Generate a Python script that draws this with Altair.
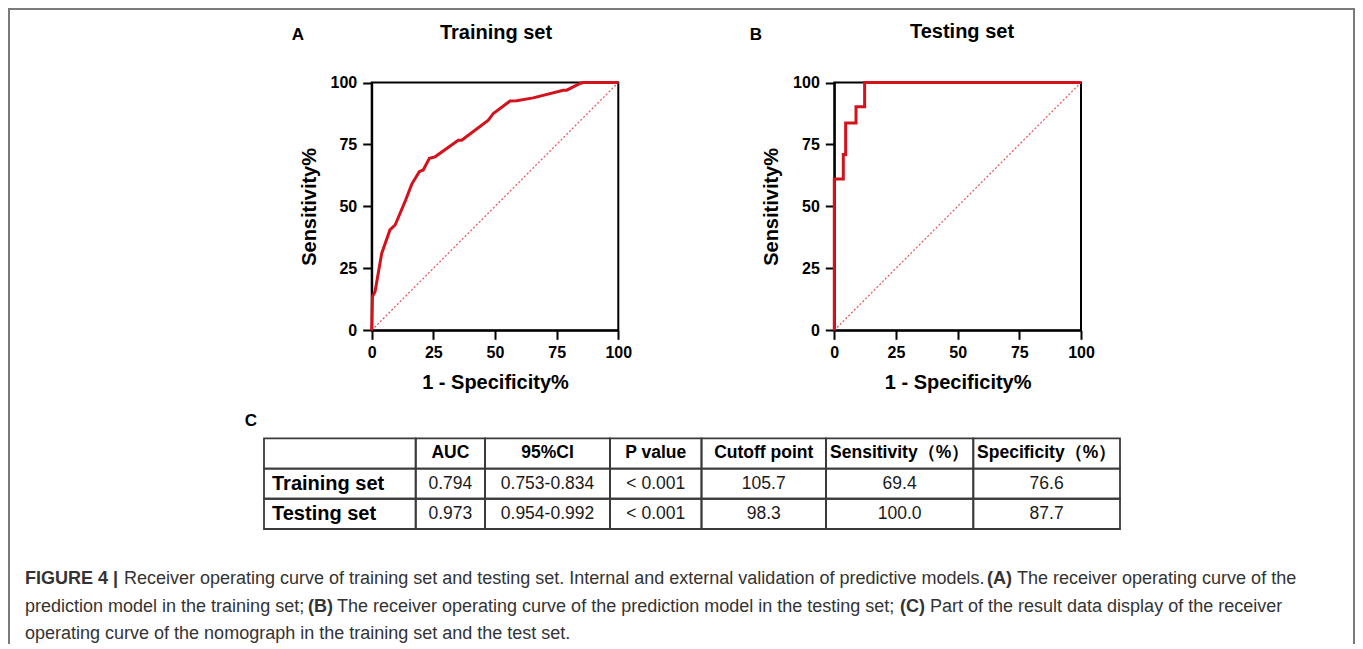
import altair as alt
import pandas as pd

# ---------------- data ----------------
train_fpr = [0, 0.3, 1.35, 4.05, 7.4, 9.5, 13.5, 16.2, 19.3, 20.9, 23.4, 25.7, 35.1, 36.5,
             47.3, 49.3, 56.1, 58.8, 65.5, 77.7, 79.1, 84.5, 85.8, 100]
train_tpr = [0, 13.6, 15.6, 31.0, 40.5, 42.5, 51.9, 58.9, 64.0, 64.7, 69.4, 70.0, 76.7, 76.7,
             84.8, 87.5, 92.5, 92.6, 93.8, 96.9, 96.9, 99.6, 100, 100]
test_fpr = [0, 0, 3.65, 3.65, 4.6, 4.6, 8.8, 8.8, 12.3, 12.3, 100]
test_tpr = [0, 61.1, 61.1, 70.9, 70.9, 83.7, 83.7, 90.2, 90.2, 100, 100]
chance = [0, 100]
axis_ticks = [0, 25, 50, 75, 100]
panel_titles = ["Training set", "Testing set"]
panel_letters = ["A", "B", "C"]
x_title = "1 - Specificity%"
y_title = "Sensitivity%"

table_header = ["", "AUC", "95%CI", "P value", "Cutoff point", "Sensitivity（%）", "Specificity（%）"]
table_rows = ["Training set", "Testing set"]
auc = ["0.794", "0.973"]
ci95 = ["0.753-0.834", "0.954-0.992"]
pval = ["< 0.001", "< 0.001"]
cutoff = ["105.7", "98.3"]
sensitivity = ["69.4", "100.0"]
specificity = ["76.6", "87.7"]

caption_text = [
    "FIGURE 4 |",
    "Receiver operating curve of training set and testing set. Internal and external validation of predictive models.",
    "(A)",
    "The receiver operating curve of the",
    "prediction model in the training set;",
    "(B)",
    "The receiver operating curve of the prediction model in the testing set;",
    "(C)",
    "Part of the result data display of the receiver",
    "operating curve of the nomograph in the training set and the test set.",
]
caption_bold = [True, False, True, False, False, True, False, True, False, False]
caption_line = [0, 0, 0, 0, 1, 1, 1, 1, 1, 2]

# ---------------- layout ----------------
W, H = 1347, 636
FONT = "Liberation Sans, Arial, Helvetica, sans-serif"
RED = "#d4121c"
panel_x_ranges = [[363.7, 610.3], [826.3, 1073.0]]
panel_y_range = [322.3, 74.5]
title_pos = [(488, 25), (954, 24)]
letter_pos = [(290, 27), (748, 27), (243, 413)]
caption_x = [17, 116, 979, 1009, 17, 300, 329, 892, 922, 17]
caption_y = [571, 599, 626]
caption_size = 18
col_widths = [151.7, 69.3, 125, 91.5, 124.5, 147.3, 146.7]
table_left = 256
table_y_range = [430.3, 521.0]

one = pd.DataFrame({"k": [0]})


def roc_panel(fpr, tpr, xr):
    xs = alt.Scale(domain=[0, 100], range=xr, nice=False, zero=False)
    ys = alt.Scale(domain=[0, 100], range=panel_y_range, nice=False, zero=False)
    common = dict(
        values=axis_ticks, grid=False, domainColor="black", domainWidth=2,
        tickColor="black", tickWidth=2, tickSize=9,
        labelFont=FONT, labelFontSize=16, labelFontWeight="bold", labelColor="black",
        titleFont=FONT, titleFontSize=20, titleFontWeight="bold", titleColor="black",
        labelFlush=False, labelOverlap=False,
    )
    xa = alt.Axis(orient="bottom", offset=panel_y_range[0] - H, title=x_title,
                  labelPadding=5, titlePadding=12, **common)
    ya = alt.Axis(orient="left", offset=-xr[0], title=y_title,
                  labelPadding=6, titlePadding=11, **common)
    box = alt.Chart(one).mark_rect(filled=False, stroke="black", strokeWidth=2).encode(
        x=alt.XDatum(0, scale=xs, axis=xa, type="quantitative"),
        x2=alt.X2Datum(100),
        y=alt.YDatum(0, scale=ys, axis=ya, type="quantitative"),
        y2=alt.Y2Datum(100),
    )
    diag = alt.Chart(pd.DataFrame({"x": chance, "y": chance})).mark_line(
        color="#e8505b", strokeWidth=1.2, strokeDash=[2, 2]
    ).encode(
        x=alt.X("x:Q", scale=xs, axis=xa),
        y=alt.Y("y:Q", scale=ys, axis=ya),
    )
    df = pd.DataFrame({"fpr": fpr, "tpr": tpr, "i": list(range(len(fpr)))})
    curve = alt.Chart(df).mark_line(color=RED, strokeWidth=3, strokeJoin="miter").encode(
        x=alt.X("fpr:Q", scale=xs, axis=xa),
        y=alt.Y("tpr:Q", scale=ys, axis=ya),
        order="i:Q",
    )
    return alt.layer(box, diag, curve)


panelA = roc_panel(train_fpr, train_tpr, panel_x_ranges[0])
panelB = roc_panel(test_fpr, test_tpr, panel_x_ranges[1])

# ---------------- table ----------------
edges = [0]
for w in col_widths:
    edges.append(edges[-1] + w)
tx = alt.Scale(domain=[0, edges[-1]], range=[table_left, table_left + edges[-1]], nice=False, zero=False)
ty = alt.Scale(domain=[0, 3], range=table_y_range, nice=False, zero=False)

cells = pd.DataFrame([
    {"x0": edges[c], "x1": edges[c + 1], "r0": r, "r1": r + 1}
    for r in range(3) for c in range(len(col_widths))
])
rect_layer = alt.Chart(cells).mark_rect(filled=False, stroke="#3a3a3a", strokeWidth=1.8).encode(
    x=alt.X("x0:Q", scale=tx, axis=None), x2="x1:Q",
    y=alt.Y("r0:Q", scale=ty, axis=None), y2="r1:Q",
)

header_df = pd.DataFrame({
    "text": table_header,
    "xc": [(edges[c] + edges[c + 1]) / 2 for c in range(len(table_header))],
    "r": [0.5] * len(table_header),
})
header_layer = alt.Chart(header_df).mark_text(
    font=FONT, fontSize=17.5, fontWeight="bold", color="black", baseline="middle", align="center"
).encode(
    x=alt.X("xc:Q", scale=tx, axis=None), y=alt.Y("r:Q", scale=ty, axis=None), text="text:N"
)

rowlab_df = pd.DataFrame({"text": table_rows, "xl": [8, 8], "r": [1.5, 2.5]})
rowlab_layer = alt.Chart(rowlab_df).mark_text(
    font=FONT, fontSize=20, fontWeight="bold", color="black", baseline="middle", align="left"
).encode(
    x=alt.X("xl:Q", scale=tx, axis=None), y=alt.Y("r:Q", scale=ty, axis=None), text="text:N"
)

vals = []
for ri in range(2):
    for ci, col in enumerate([auc, ci95, pval, cutoff, sensitivity, specificity], start=1):
        vals.append({"text": col[ri], "xc": (edges[ci] + edges[ci + 1]) / 2, "r": ri + 1.5})
vals_layer = alt.Chart(pd.DataFrame(vals)).mark_text(
    font=FONT, fontSize=17.5, color="#1a1a1a", baseline="middle", align="center"
).encode(
    x=alt.X("xc:Q", scale=tx, axis=None), y=alt.Y("r:Q", scale=ty, axis=None), text="text:N"
)

table = alt.layer(rect_layer, header_layer, rowlab_layer, vals_layer)

# ---------------- annotations ----------------
titles_df = pd.DataFrame({"text": panel_titles, "px": [p[0] for p in title_pos], "py": [p[1] for p in title_pos]})
titles = alt.Chart(titles_df).mark_text(
    font=FONT, fontSize=20, fontWeight="bold", color="black", baseline="middle", align="center"
).encode(x=alt.X("px:Q", scale=None), y=alt.Y("py:Q", scale=None), text="text:N")

letters_df = pd.DataFrame({"text": panel_letters, "px": [p[0] for p in letter_pos], "py": [p[1] for p in letter_pos]})
letters = alt.Chart(letters_df).mark_text(
    font=FONT, fontSize=17, fontWeight="bold", color="black", baseline="middle", align="center"
).encode(x=alt.X("px:Q", scale=None), y=alt.Y("py:Q", scale=None), text="text:N")

cap_df = pd.DataFrame({
    "text": caption_text,
    "bold": caption_bold,
    "px": caption_x,
    "py": [caption_y[l] for l in caption_line],
})
cap_regular = alt.Chart(cap_df).transform_filter("!datum.bold").mark_text(
    font=FONT, fontSize=caption_size, color="#333333", baseline="middle", align="left"
).encode(x=alt.X("px:Q", scale=None), y=alt.Y("py:Q", scale=None), text="text:N")
cap_bold = alt.Chart(cap_df).transform_filter("datum.bold").mark_text(
    font=FONT, fontSize=caption_size, fontWeight="bold", color="#333333", baseline="middle", align="left"
).encode(x=alt.X("px:Q", scale=None), y=alt.Y("py:Q", scale=None), text="text:N")

frame = alt.Chart(one).mark_rect(filled=False, stroke="#7a7a7a", strokeWidth=2).encode(
    x=alt.value(1), x2=alt.value(W - 1), y=alt.value(1), y2=alt.value(H + 20)
)

chart = alt.layer(
    frame, panelA, panelB, table, titles, letters, cap_regular, cap_bold
).resolve_scale(x="independent", y="independent").properties(
    width=W, height=H, autosize=alt.AutoSizeParams(type="none"), padding=0, background="white"
).configure_view(stroke=None)

chart.save("out.html", embed_options={"renderer": "svg", "actions": False})
